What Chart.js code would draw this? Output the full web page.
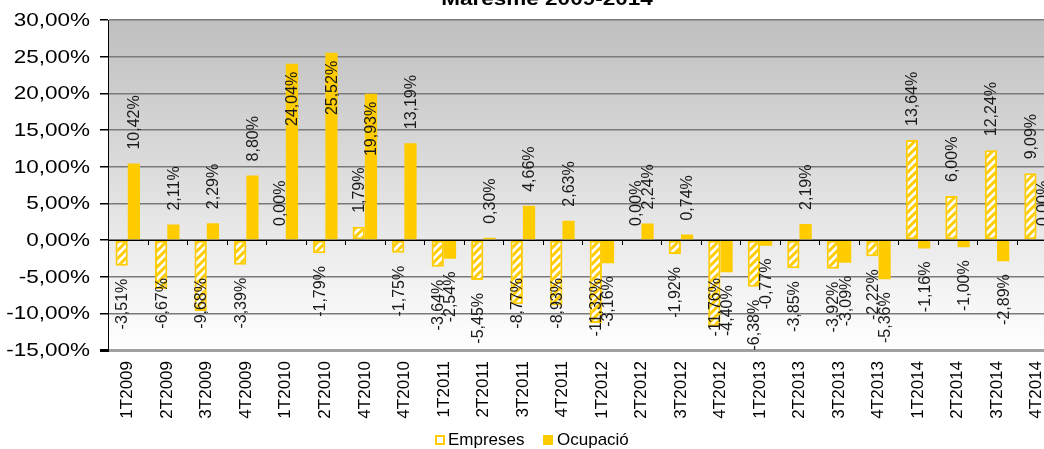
<!DOCTYPE html>
<html>
<head>
<meta charset="utf-8">
<script src="https://cdn.jsdelivr.net/npm/chart.js@4/dist/chart.umd.min.js"></script>
<style>
html,body{margin:0;padding:0;overflow:hidden;background:#fff;width:1044px;height:449px;}
#wrap{position:absolute;left:0;top:0;width:1060px;height:449px;}
</style>
</head>
<body>
<div id="wrap"><canvas id="c" width="1060" height="449"></canvas></div>
<script>
const titleText = 'Maresme 2009-2014';
const categories = ['1T2009','2T2009','3T2009','4T2009','1T2010','2T2010','4T2010','4T2010',
  '1T2011','2T2011','3T2011','4T2011','1T2012','2T2012','3T2012','4T2012',
  '1T2013','2T2013','3T2013','4T2013','1T2014','2T2014','3T2014','4T2014'];
const empreses = [-3.51,-6.67,-9.68,-3.39,0.00,-1.79,1.79,-1.75,
  -3.64,-5.45,-8.77,-8.93,-11.32,0.00,-1.92,-11.76,
  -6.38,-3.85,-3.92,-2.22,13.64,6.00,12.24,9.09];
const ocupacio = [10.42,2.11,2.29,8.80,24.04,25.52,19.93,13.19,
  -2.54,0.30,4.66,2.63,-3.16,2.24,0.74,-4.40,
  -0.77,2.19,-3.09,-5.36,-1.16,-1.00,-2.89,0.00];
const yTicks = [30,25,20,15,10,5,0,-5,-10,-15];
const seriesNames = ['Empreses','Ocupació'];

const YEL = '#FFCC00';
const fmt = v => v.toFixed(2).replace('.', ',') + '%';

const canvas = document.getElementById('c');
const ctx0 = canvas.getContext('2d');
function hatch(){
  const c = document.createElement('canvas'); c.width = 8; c.height = 8;
  const g = c.getContext('2d');
  g.fillStyle = '#fff'; g.fillRect(0,0,8,8);
  g.strokeStyle = YEL; g.lineWidth = 3;
  g.beginPath();
  g.moveTo(-2,10); g.lineTo(10,-2);
  g.moveTo(-6,6); g.lineTo(6,-6);
  g.moveTo(2,14); g.lineTo(14,2);
  g.stroke();
  return ctx0.createPattern(c,'repeat');
}
const hatchPat = hatch();

const decor = {
  id: 'decor',
  beforeDraw(chart){
    const {ctx, chartArea:a} = chart;
    const gr = ctx.createLinearGradient(0, a.top, 0, a.bottom);
    gr.addColorStop(0, '#bfbfbf');
    gr.addColorStop(1, '#ffffff');
    ctx.save();
    ctx.fillStyle = gr;
    ctx.fillRect(a.left, a.top, a.right - a.left, a.bottom - a.top);
    ctx.restore();
  },
  afterDatasetsDraw(chart){
    const {ctx, chartArea:a, scales} = chart;
    const ys = scales.y, xs = scales.x;
    const zy = ys.getPixelForValue(0);
    ctx.save();
    // zero line
    ctx.strokeStyle = '#000'; ctx.lineWidth = 1;
    ctx.beginPath(); ctx.moveTo(a.left, Math.round(zy)+0.5); ctx.lineTo(a.right, Math.round(zy)+0.5); ctx.stroke();
    // category tick marks on zero line
    const step = (a.right - a.left) / categories.length;
    ctx.beginPath();
    for (let i = 1; i < categories.length; i++) {
      const x = Math.round(a.left + step * i) + 0.5;
      ctx.moveTo(x, zy); ctx.lineTo(x, zy + 5);
    }
    ctx.stroke();
    // data labels
    ctx.font = '16px "Liberation Sans", Arial, sans-serif';
    ctx.fillStyle = '#1a1a1a';
    ctx.textAlign = 'center'; ctx.textBaseline = 'middle';
    chart.data.datasets.forEach((ds, di) => {
      const meta = chart.getDatasetMeta(di);
      meta.data.forEach((bar, i) => {
        const v = ds.data[i];
        const txt = fmt(v);
        const w = ctx.measureText(txt).width;
        let top, bottom;
        if (v >= 0) {
          bottom = bar.y - 14; top = bottom - w;
          if (top < a.top + 10) { top = bar.y + 8; bottom = top + w; }
        } else {
          top = bar.y + 13; bottom = top + w;
          if (bottom > a.bottom + 2) { top = zy + 38; bottom = top + w; }
        }
        ctx.save();
        ctx.translate(bar.x + 1, (top + bottom) / 2);
        ctx.rotate(-Math.PI / 2);
        ctx.fillText(txt, 0, 0);
        ctx.restore();
      });
    });
    ctx.restore();
  },
  afterDraw(chart){
    const {ctx, scales} = chart;
    const ys = scales.y;
    ctx.save();
    // y tick labels
    ctx.fillStyle = '#000';
    ctx.font = '18px "Liberation Sans", Arial, sans-serif';
    ctx.textAlign = 'right'; ctx.textBaseline = 'middle';
    yTicks.forEach(v => {
      const y = ys.getPixelForValue(v);
      ctx.save(); ctx.translate(90, y + 1); ctx.scale(1.25, 1);
      ctx.fillText(fmt(v), 0, 0); ctx.restore();
    });
    // title (clipped at top)
    ctx.font = 'bold 18px "Liberation Sans", Arial, sans-serif';
    ctx.textAlign = 'center'; ctx.textBaseline = 'alphabetic';
    ctx.save(); ctx.translate(547, 5); ctx.scale(1.25, 1);
    ctx.fillText(titleText, 0, 0); ctx.restore();
    // legend
    ctx.font = '17px "Liberation Sans", Arial, sans-serif';
    ctx.textAlign = 'left'; ctx.textBaseline = 'middle';
    const ly = 440;
    ctx.fillStyle = '#fff'; ctx.fillRect(436, ly - 4, 8, 8);
    ctx.strokeStyle = YEL; ctx.lineWidth = 2; ctx.strokeRect(436, ly - 4, 8, 8);
    ctx.fillStyle = '#000'; ctx.fillText(seriesNames[0], 448, ly);
    ctx.fillStyle = YEL; ctx.fillRect(543, ly - 5, 10, 10);
    ctx.fillStyle = '#000'; ctx.fillText(seriesNames[1], 557, ly);
    ctx.restore();
  }
};

new Chart(canvas, {
  type: 'bar',
  data: {
    labels: categories,
    datasets: [
      { label: seriesNames[0], data: empreses, backgroundColor: hatchPat, borderColor: YEL, borderWidth: 2, borderSkipped: false },
      { label: seriesNames[1], data: ocupacio, backgroundColor: YEL, borderWidth: 0 }
    ]
  },
  options: {
    responsive: false,
    animation: false,
    devicePixelRatio: 1,
    layout: { padding: { top: 20, right: 2, left: 0, bottom: 0 } },
    datasets: { bar: { categoryPercentage: 0.62, barPercentage: 1.0 } },
    plugins: { legend: { display: false }, title: { display: false }, tooltip: { enabled: false } },
    scales: {
      x: {
        offset: true,
        grid: { display: false, drawTicks: true, tickLength: 8 },
        border: { display: false },
        ticks: { autoSkip: false, maxRotation: 90, minRotation: 90, padding: 3, color: '#000',
                 font: { family: '"Liberation Sans", Arial, sans-serif', size: 17 } },
        afterFit(s){ s.height = 99; }
      },
      y: {
        min: -15, max: 30,
        ticks: { stepSize: 5, display: false },
        grid: {
          color: c => (c.tick && c.tick.value === -15) ? '#a0a0a0' : '#7a7a7a',
          lineWidth: c => (c.tick && c.tick.value === -15) ? 3 : 1.5,
          drawTicks: true, tickLength: 8, tickColor: '#000'
        },
        border: { display: true, color: '#000', width: 1 },
        afterFit(s){ s.width = 108; }
      }
    }
  },
  plugins: [decor]
});
</script>
</body>
</html>
